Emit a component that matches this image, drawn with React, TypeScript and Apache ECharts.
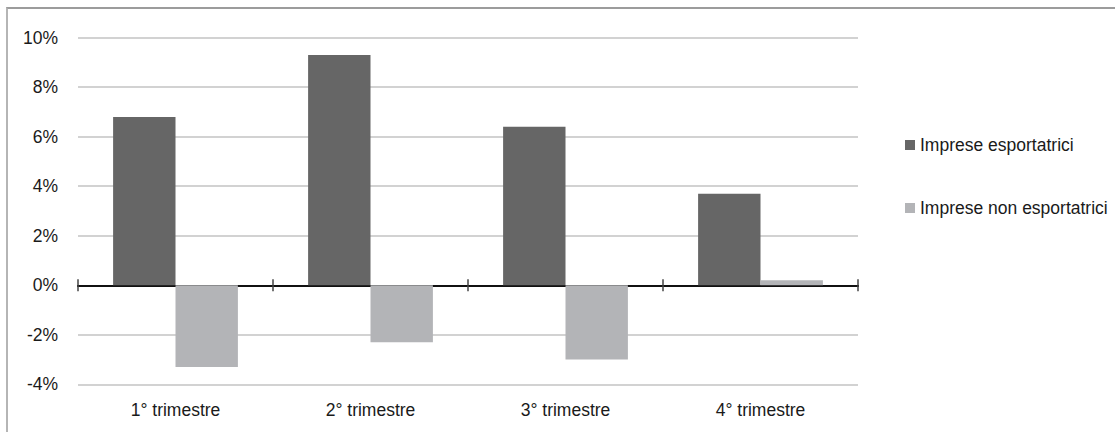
import React, { useEffect, useRef } from "react";
import * as echarts from "echarts";

const categories = ["1° trimestre", "2° trimestre", "3° trimestre", "4° trimestre"];
const seriesNames = ["Imprese esportatrici", "Imprese non esportatrici"];
const esportatrici = [6.8, 9.3, 6.4, 3.7];
const nonEsportatrici = [-3.3, -2.3, -3.0, 0.2];
const yMin = -4;
const yMax = 10;
const yStep = 2;

const FONT = "'Liberation Sans', Arial, sans-serif";
const FS = 17.5;
const TEXT = "#1a1a1a";

export default function App() {
  const ref = useRef<HTMLDivElement>(null);
  useEffect(() => {
    if (!ref.current) return;
    const chart = echarts.init(ref.current, undefined, { renderer: "svg" });
    const zeroAxisBase = {
      type: "category",
      data: categories,
      axisLine: { show: true, onZero: true, onZeroAxisIndex: 0, lineStyle: { color: "#111", width: 2 } },
      axisLabel: { show: false },
      splitLine: { show: false },
    };
    chart.setOption({
      animation: false,
      textStyle: { fontFamily: FONT },
      grid: { left: 78, right: 257, top: 37.7, bottom: 47.7, containLabel: false },
      legend: {
        orient: "vertical",
        left: 900,
        top: 131,
        itemWidth: 10,
        itemHeight: 10,
        itemGap: 45,
        icon: "rect",
        data: seriesNames,
        textStyle: { fontFamily: FONT, fontSize: FS, color: TEXT },
      },
      xAxis: [
        {
          type: "category",
          data: categories,
          position: "bottom",
          axisLine: { show: false, onZero: false },
          axisTick: { show: false },
          axisLabel: { fontFamily: FONT, fontSize: FS, color: TEXT, margin: 17 },
        },
        {
          ...zeroAxisBase,
          position: "bottom",
          axisTick: { show: true, inside: false, length: 6, lineStyle: { color: "#444", width: 1.5 } },
        },
        {
          ...zeroAxisBase,
          position: "top",
          axisTick: { show: true, inside: false, length: 6, lineStyle: { color: "#444", width: 1.5 } },
        },
      ],
      yAxis: {
        type: "value",
        min: yMin,
        max: yMax,
        interval: yStep,
        axisLine: { show: false },
        axisTick: { show: false },
        axisLabel: {
          fontFamily: FONT,
          fontSize: FS,
          color: TEXT,
          margin: 20,
          formatter: (v: number) => `${v}%`,
        },
        splitLine: { lineStyle: { color: "#c3c3c3", width: 1.5 } },
      },
      series: [
        {
          name: seriesNames[0],
          type: "bar",
          xAxisIndex: 0,
          data: esportatrici,
          itemStyle: { color: "#666666" },
          barGap: "0%",
          barCategoryGap: "36%",
        },
        {
          name: seriesNames[1],
          type: "bar",
          xAxisIndex: 0,
          data: nonEsportatrici,
          itemStyle: { color: "#b3b4b7" },
          barGap: "0%",
          barCategoryGap: "36%",
        },
      ],
    });
    return () => chart.dispose();
  }, []);
  return (
    <div style={{ position: "fixed", left: 0, top: 0, width: 1115, height: 432, overflow: "hidden", background: "#fff" }}>
      <div ref={ref} style={{ position: "absolute", left: 0, top: 0, width: 1115, height: 432 }} />
      <div
        style={{
          position: "absolute",
          left: 6,
          top: 7,
          width: 1200,
          height: 600,
          borderTop: "2px solid #9c9c9c",
          borderLeft: "2px solid #b5b5b5",
          pointerEvents: "none",
        }}
      />
    </div>
  );
}
